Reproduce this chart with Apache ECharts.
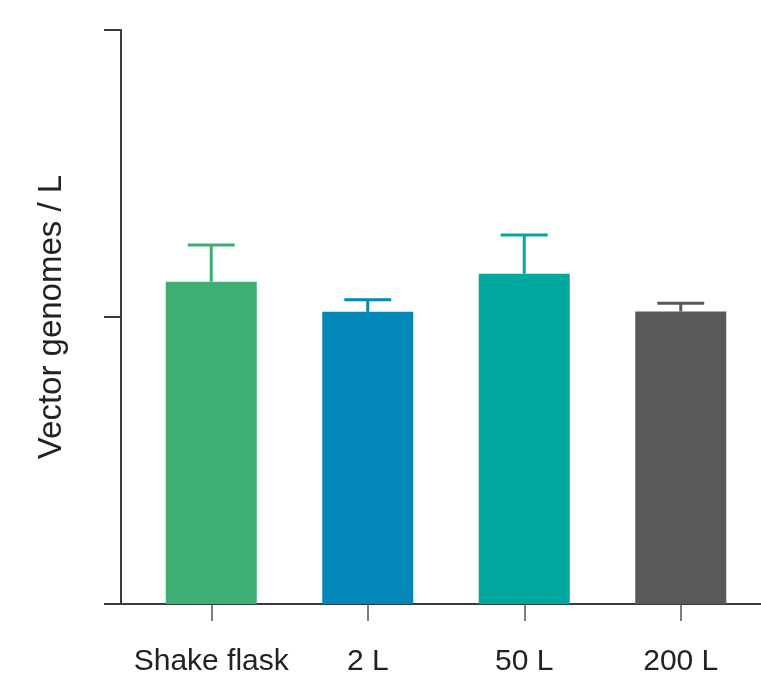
<!DOCTYPE html>
<html>
<head>
<meta charset="utf-8">
<script src="https://cdn.jsdelivr.net/npm/echarts@6/dist/echarts.min.js"></script>
<style>
  html, body { margin: 0; padding: 0; background: #fff; }
  #chart { width: 761px; height: 673px; }
</style>
</head>
<body>
<div id="chart"></div>
<script>
// Vector genome yield per litre by production scale (mean + SD)
const categories = ['Shake flask', '2 L', '50 L', '200 L'];
const means = [1.123, 1.018, 1.151, 1.019];
const errors = [0.128, 0.042, 0.135, 0.029];
const barColors = ['#3DAF72', '#0287B8', '#00A99F', '#59595B'];
const yTicks = [0, 1, 2];

const FONT = '"Liberation Sans", Arial, Helvetica, sans-serif';
const AXIS_COLOR = '#3a3a3a';

const chart = echarts.init(document.getElementById('chart'), null, { renderer: 'canvas' });

const barData = means.map((v, i) => ({ value: v, itemStyle: { color: barColors[i] } }));
const errData = means.map((v, i) => [i, v, v + errors[i]]);

function renderError(params, api) {
  const idx = api.value(0);
  const base = api.coord([idx, api.value(1)]);
  const top = api.coord([idx, api.value(2)]);
  const band = api.size([1, 0])[0];
  const half = band * 0.15;
  const style = { stroke: barColors[idx], lineWidth: 3, fill: null };
  return {
    type: 'group',
    children: [
      { type: 'line', shape: { x1: base[0], y1: base[1], x2: top[0], y2: top[1] }, style },
      { type: 'line', shape: { x1: top[0] - half, y1: top[1], x2: top[0] + half, y2: top[1] }, style }
    ]
  };
}

chart.setOption({
  animation: false,
  backgroundColor: '#ffffff',
  grid: [
    { left: 133, right: 2, top: 30, bottom: 69, containLabel: false, outerBoundsMode: 'none' },
    { left: 121, right: 0, top: 30, bottom: 69, containLabel: false, outerBoundsMode: 'none' }
  ],
  xAxis: [
    {
      type: 'category',
      gridIndex: 0,
      data: categories,
      axisLine: { show: true, lineStyle: { color: AXIS_COLOR, width: 2 } },
      axisTick: { show: true, alignWithLabel: true, interval: 0, length: 17, lineStyle: { color: '#555', width: 1.5 } },
      axisLabel: { interval: 0, margin: 43, fontSize: 30, color: '#222', fontFamily: FONT }
    },
    {
      type: 'value',
      gridIndex: 1,
      min: 0, max: 1,
      axisLine: { show: true, onZero: false, lineStyle: { color: AXIS_COLOR, width: 2 } },
      axisTick: { show: false },
      axisLabel: { show: false },
      splitLine: { show: false }
    }
  ],
  yAxis: [
    {
      type: 'value',
      gridIndex: 0,
      min: yTicks[0],
      max: yTicks[yTicks.length - 1],
      interval: 1,
      offset: 12,
      name: 'Vector genomes / L',
      nameLocation: 'middle',
      nameGap: 53,
      nameTextStyle: { fontSize: 33, color: '#222', fontFamily: FONT },
      axisLine: { show: true, lineStyle: { color: AXIS_COLOR, width: 2 } },
      axisTick: { show: true, length: 17, lineStyle: { color: AXIS_COLOR, width: 2 } },
      axisLabel: { show: false },
      splitLine: { show: false }
    },
    {
      type: 'value',
      gridIndex: 1,
      min: 0, max: 1,
      show: false
    }
  ],
  series: [
    {
      type: 'bar',
      xAxisIndex: 0,
      yAxisIndex: 0,
      data: barData,
      barWidth: 91
    },
    {
      type: 'custom',
      xAxisIndex: 0,
      yAxisIndex: 0,
      renderItem: renderError,
      data: errData,
      encode: { x: 0, y: [1, 2] },
      z: 3
    }
  ]
});
</script>
</body>
</html>
